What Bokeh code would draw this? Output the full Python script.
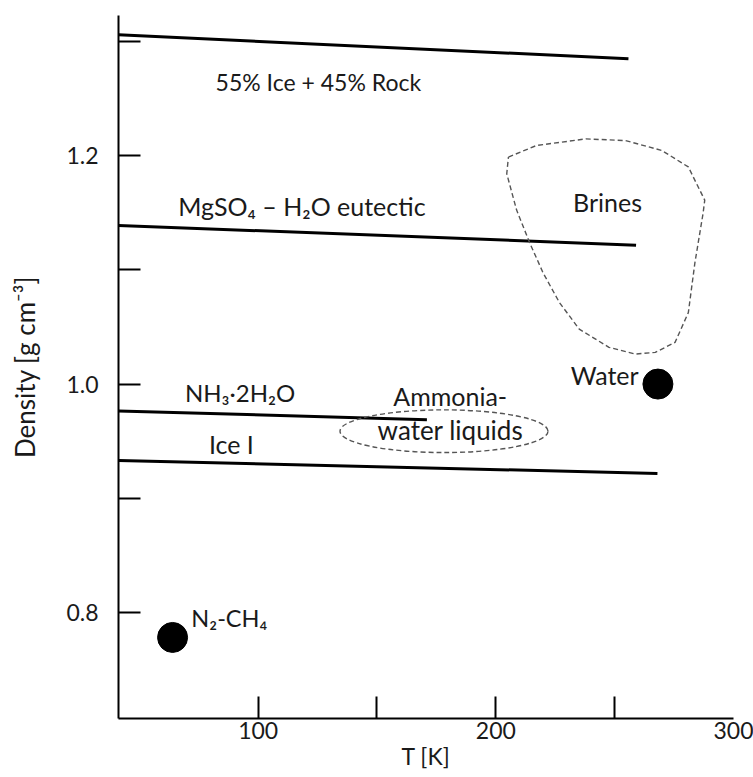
from bokeh.plotting import figure
from bokeh.models import FixedTicker, Range1d, Label
from bokeh.embed import file_html
from bokeh.resources import INLINE

FONT = "Lato"
FS = "23px"
TXT = "#1a1a1a"

# ---- data (T in K, density in g cm^-3) ----
rock_T = [41.25, 255.8]
rock_rho = [1.306, 1.285]
mgso4_T = [41.25, 259.0]
mgso4_rho = [1.139, 1.1217]
nh3_T = [41.25, 171.0]
nh3_rho = [0.9765, 0.9687]
ice_T = [41.25, 268.0]
ice_rho = [0.933, 0.9217]

water_T = [268.2]
water_rho = [1.0]
n2ch4_T = [64.0]
n2ch4_rho = [0.778]

# ammonia-water liquids region (ellipse)
amm_T = [178.2]
amm_rho = [0.9587]
amm_w = [87.5]
amm_h = [0.0374]

# brines region outline
brine_T = [205.3, 217.1, 237.9, 254.6, 269.9, 281.0, 287.9, 287.2, 283.75, 281.0,
           275.4, 267.1, 258.75, 247.6, 235.1, 226.8, 219.9, 214.3, 208.75, 204.6, 205.3]
brine_rho = [1.1989, 1.2090, 1.2148, 1.2133, 1.2046, 1.1902, 1.1611, 1.1496, 1.1061, 1.0626,
             1.0365, 1.0278, 1.0263, 1.0322, 1.0481, 1.0713, 1.0974, 1.1235, 1.1524, 1.1843, 1.1989]

x_label_ticks = [100, 200, 300]
x_minor_ticks = [100, 150, 200, 250]
y_label_ticks = [0.8, 1.0, 1.2]
y_minor_ticks = [0.8, 0.9, 1.0, 1.1, 1.2, 1.3]

p = figure(width=753, height=777, output_backend="svg", toolbar_location=None,
           x_range=Range1d(41.25, 300), y_range=Range1d(0.707, 1.3229),
           min_border_left=118, min_border_right=20, min_border_top=15,
           min_border_bottom=59)
p.outline_line_color = None
p.xgrid.visible = False
p.ygrid.visible = False
p.background_fill_color = "white"
p.border_fill_color = "white"

for ax, lab, mnr in ((p.xaxis[0], x_label_ticks, x_minor_ticks),
                     (p.yaxis[0], y_label_ticks, y_minor_ticks)):
    ax.ticker = FixedTicker(ticks=lab, minor_ticks=mnr)
    ax.axis_line_width = 2
    ax.axis_line_color = "black"
    ax.major_tick_in = 0
    ax.major_tick_out = 0
    ax.minor_tick_in = 22
    ax.minor_tick_out = 0
    ax.minor_tick_line_width = 2
    ax.minor_tick_line_color = "black"
    ax.major_label_text_font = FONT
    ax.major_label_text_font_size = FS
    ax.major_label_text_color = TXT
    ax.axis_label_text_font = FONT
    ax.axis_label_text_font_style = "normal"
    ax.axis_label_text_color = TXT
p.xaxis[0].major_label_standoff = 3
p.yaxis[0].major_label_standoff = 20
p.xaxis[0].major_label_overrides = {100: "100", 200: "200", 300: "300"}
p.yaxis[0].major_label_overrides = {0.8: "0.8", 1.0: "1.0", 1.2: "1.2"}

p.xaxis[0].axis_label = "T [K]"
p.xaxis[0].axis_label_text_font_size = FS
p.xaxis[0].axis_label_standoff = 0
p.xaxis[0].axis_label_text_align = "left"
p.yaxis[0].axis_label = "Density [g cm\u207b\u00b3]"
p.yaxis[0].axis_label_text_font_size = "26px"
p.yaxis[0].axis_label_standoff = 22

# lines
for xs, ys in ((rock_T, rock_rho), (mgso4_T, mgso4_rho), (nh3_T, nh3_rho), (ice_T, ice_rho)):
    p.line(xs, ys, line_color="black", line_width=3)

# dashed regions
p.ellipse(x=amm_T, y=amm_rho, width=amm_w, height=amm_h, fill_color=None,
          line_color="#555555", line_width=1.4, line_dash="5 3")
p.line(brine_T, brine_rho, line_color="#555555", line_width=1.4, line_dash="5 3")

# points
p.scatter(water_T, water_rho, size=30, color="black")
p.scatter(n2ch4_T, n2ch4_rho, size=30, color="black")

def txt(x, y, s, size, align="left"):
    p.add_layout(Label(x=x, y=y, text=s, text_font=FONT, text_font_size=size,
                       text_color=TXT, text_align=align, text_baseline="middle"))

txt(82.1, 1.265, "55% Ice + 45% Rock", "23px")
txt(66.4, 1.1557, "MgSO\u2084 \u2013 H\u2082O eutectic", "25px")
txt(69.2, 0.9926, "NH\u2083\u00b72H\u2082O", "24px")
txt(79.3, 0.9474, "Ice I", "25px")
txt(180.8, 0.9896, "Ammonia-", "25px", "center")
txt(180.9, 0.9600, "water liquids", "26px", "center")
txt(247.0, 1.1597, "Brines", "25px", "center")
txt(260.1, 1.0078, "Water", "25px", "right")
txt(71.9, 0.7952, "N\u2082-CH\u2084", "23.5px")

open("out.html", "w").write(file_html(p, INLINE))
